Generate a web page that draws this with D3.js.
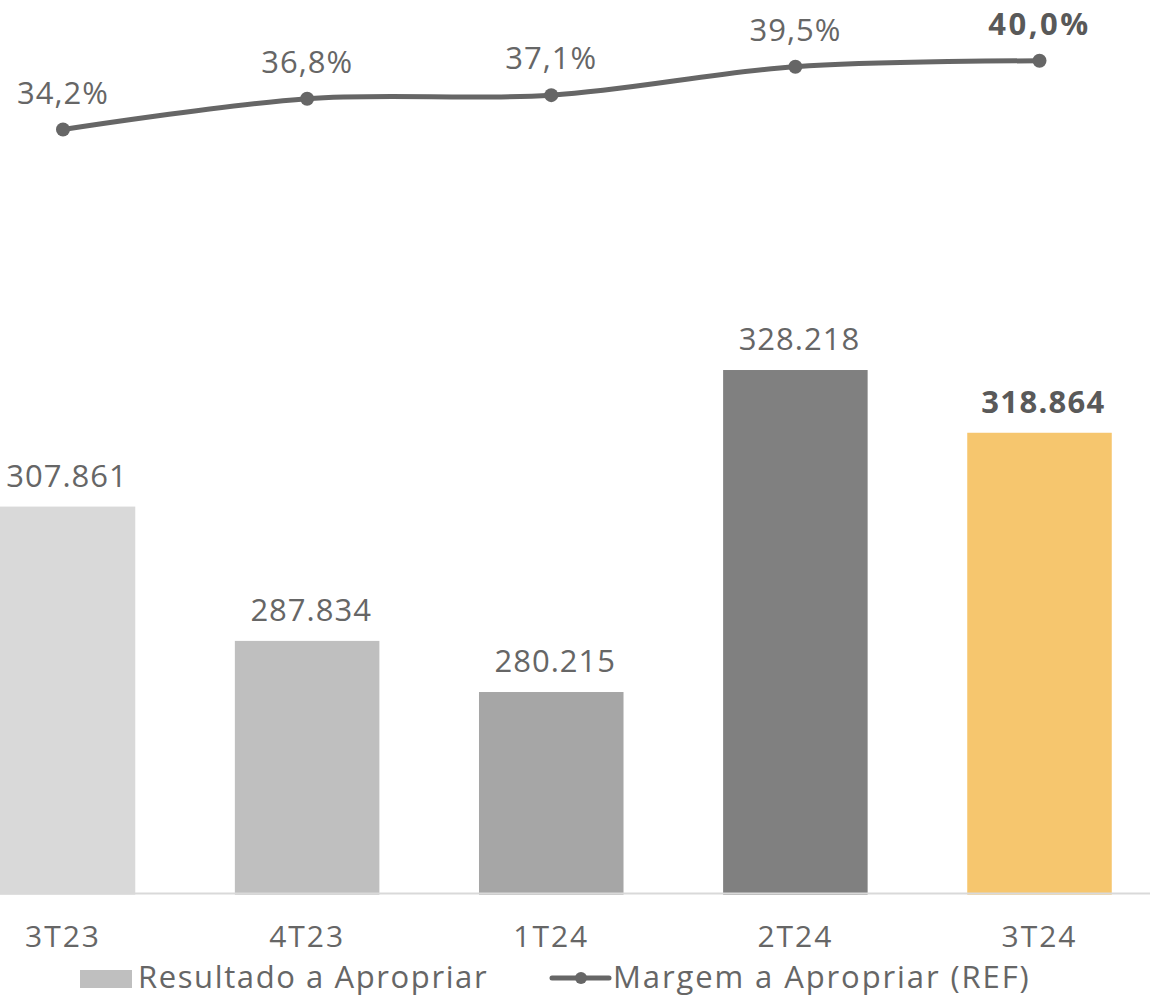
<!DOCTYPE html>
<html>
<head>
<meta charset="utf-8">
<script src="https://cdn.jsdelivr.net/npm/d3@7/dist/d3.min.js"></script>
<style>
  html, body { margin: 0; padding: 0; background: #fff; }
  svg { display: block; font-family: "Open Sans", "Noto Sans", sans-serif; }
</style>
</head>
<body>
<svg id="chart" width="1150" height="996"></svg>
<script>
// Quarterly data
const categories = ["3T23", "4T23", "1T24", "2T24", "3T24"];
const resultado = [307861, 287834, 280215, 328218, 318864];
const resultadoLabels = ["307.861", "287.834", "280.215", "328.218", "318.864"];
const margem = [34.2, 36.8, 37.1, 39.5, 40.0];
const margemLabels = ["34,2%", "36,8%", "37,1%", "39,5%", "40,0%"];
const barColors = ["#d9d9d9", "#bfbfbf", "#a6a6a6", "#808080", "#f6c66e"];
const legendNames = ["Resultado a Apropriar", "Margem a Apropriar (REF)"];

const svg = d3.select("#chart");
const textColor = "#666666";
const boldColor = "#595959";
const lineColor = "#666666";
const baselineY = 893.5;
const last = categories.length - 1;

// Scales
const x = d3.scalePoint().domain(categories).range([63, 1039.5]);
const barWidth = x.step() * 0.592;
const yBar = d3.scaleLinear().domain([250000, 350000]).range([894.7, 223.9]);
const yLine = d3.scaleLinear().domain([30, 40]).range([179.3, 60.8]);

// Bars
svg.append("g").selectAll("rect")
  .data(resultado)
  .join("rect")
  .attr("x", (d, i) => x(categories[i]) - barWidth / 2)
  .attr("width", barWidth)
  .attr("y", d => yBar(d))
  .attr("height", d => yBar.range()[0] - yBar(d))
  .attr("fill", (d, i) => barColors[i]);

// Baseline
svg.append("line")
  .attr("x1", 0).attr("x2", 1150)
  .attr("y1", baselineY).attr("y2", baselineY)
  .attr("stroke", "#d9d9d9").attr("stroke-width", 2);

// Bar value labels
svg.append("g").selectAll("text")
  .data(resultado)
  .join("text")
  .attr("x", (d, i) => x(categories[i]) + 4)
  .attr("y", d => yBar(d) - 20)
  .attr("text-anchor", "middle")
  .attr("font-size", 31)
  .attr("font-weight", (d, i) => i === last ? 700 : 400)
  .attr("letter-spacing", (d, i) => i === last ? 1.3 : 1)
  .attr("fill", (d, i) => i === last ? boldColor : textColor)
  .text((d, i) => resultadoLabels[i]);

// Category axis labels
svg.append("g").selectAll("text")
  .data(categories)
  .join("text")
  .attr("x", d => x(d))
  .attr("y", 947)
  .attr("text-anchor", "middle")
  .attr("font-size", 30)
  .attr("letter-spacing", 2)
  .attr("fill", textColor)
  .text(d => d);

// Smoothed margin line
const line = d3.line()
  .x((d, i) => x(categories[i]))
  .y(d => yLine(d))
  .curve(d3.curveCardinal.tension(0));

svg.append("path")
  .datum(margem)
  .attr("d", line)
  .attr("fill", "none")
  .attr("stroke", lineColor)
  .attr("stroke-width", 5)
  .attr("stroke-linecap", "round");

svg.append("g").selectAll("circle")
  .data(margem)
  .join("circle")
  .attr("cx", (d, i) => x(categories[i]))
  .attr("cy", d => yLine(d))
  .attr("r", 7)
  .attr("fill", lineColor);

// Margin labels
svg.append("g").selectAll("text")
  .data(margem)
  .join("text")
  .attr("x", (d, i) => x(categories[i]))
  .attr("y", d => yLine(d) - 26)
  .attr("text-anchor", "middle")
  .attr("font-size", 31)
  .attr("font-weight", (d, i) => i === last ? 700 : 400)
  .attr("letter-spacing", (d, i) => i === last ? 2.5 : 1)
  .attr("fill", (d, i) => i === last ? boldColor : textColor)
  .text((d, i) => margemLabels[i]);

// Legend
const legend = svg.append("g");
legend.append("rect")
  .attr("x", 80).attr("y", 970).attr("width", 52).attr("height", 18)
  .attr("fill", "#bfbfbf");
legend.append("text")
  .attr("x", 138).attr("y", 988)
  .attr("font-size", 31).attr("fill", textColor)
  .attr("letter-spacing", 1.6)
  .text(legendNames[0]);
legend.append("line")
  .attr("x1", 552).attr("x2", 609).attr("y1", 978).attr("y2", 978)
  .attr("stroke", lineColor).attr("stroke-width", 5).attr("stroke-linecap", "round");
legend.append("circle")
  .attr("cx", 581).attr("cy", 978).attr("r", 6).attr("fill", lineColor);
legend.append("text")
  .attr("x", 613).attr("y", 988)
  .attr("font-size", 31).attr("fill", textColor)
  .attr("letter-spacing", 1.9)
  .text(legendNames[1]);
</script>
</body>
</html>
